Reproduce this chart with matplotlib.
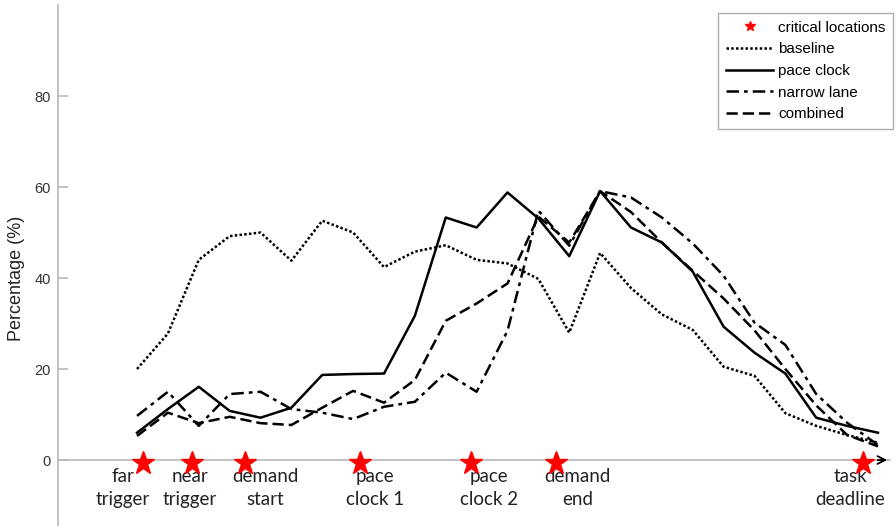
import matplotlib.pyplot as plt
import numpy as np

# percentages at 25 evenly spaced sample locations along the task
baseline = [20.0, 27.8, 44.0, 49.2, 50.0, 43.8, 52.6, 50.0, 42.4, 45.8, 47.2, 44.0, 43.2,
            39.8, 28.0, 45.5, 37.8, 32.0, 28.6, 20.5, 18.5, 10.3, 7.5, 5.5, 3.8]
pace_clock = [6.0, 11.2, 16.1, 10.8, 9.3, 11.5, 18.7, 18.9, 19.0, 31.7, 53.3, 51.1, 58.8,
              53.1, 44.8, 59.1, 51.1, 47.8, 41.4, 29.3, 23.6, 19.0, 9.3, 7.5, 6.0]
narrow_lane = [9.7, 15.0, 7.5, 14.5, 15.0, 11.2, 10.4, 9.0, 11.7, 12.8, 19.2, 15.0, 28.4,
               54.8, 47.1, 59.1, 57.7, 53.3, 47.6, 40.5, 30.2, 25.3, 14.5, 8.2, 3.3]
combined = [5.3, 10.4, 8.1, 9.5, 8.1, 7.7, 11.5, 15.2, 12.6, 17.6, 30.6, 34.4, 38.8,
            53.5, 47.8, 59.1, 54.5, 47.8, 41.6, 35.5, 28.5, 20.0, 12.0, 5.5, 3.0]

critical_x = [0.19, 1.78, 3.5, 7.22, 10.82, 13.57, 23.5]
critical_labels = ["far\ntrigger", "near\ntrigger", "demand\nstart", "pace\nclock 1",
                   "pace\nclock 2", "demand\nend", "task\ndeadline"]
label_x = [-0.45, 1.72, 4.15, 7.71, 11.4, 14.28, 23.1]

yticks = [0, 20, 40, 60, 80]

x = np.arange(len(baseline))

fig = plt.figure(figsize=(8.96, 5.26), dpi=100)
ax = fig.add_axes([58 / 896, 0, (890 - 58) / 896, (526 - 5) / 526])
ax.set_xlim(-2.56, 24.39)
ax.set_ylim(-14.5, 100)

axis_gray = "#b8b8b8"

ax.plot(ax.get_xlim(), [0, 0], color=axis_gray, lw=1.2, zorder=1, clip_on=False)
ax.annotate("", xy=(24.39, 0), xytext=(23.9, 0),
            arrowprops=dict(arrowstyle="->", color="black", lw=1.3, mutation_scale=14),
            annotation_clip=False)

ax.plot(x, baseline, color="black", lw=1.8, linestyle=(0, (1, 0.9)), label="baseline")
ax.plot(x, pace_clock, color="black", lw=1.8, linestyle="-", label="pace clock")
ax.plot(x, narrow_lane, color="black", lw=1.8, linestyle=(0, (5, 2, 1.5, 2)), label="narrow lane")
ax.plot(x, combined, color="black", lw=1.8, linestyle=(0, (4.5, 2)), label="combined")

ax.plot(critical_x, [-0.7] * len(critical_x), linestyle="none", marker="*",
        color="red", markersize=17, zorder=5, clip_on=False, label="critical locations")

for lx, lab in zip(label_x, critical_labels):
    ax.text(lx, -1.7, lab, ha="center", va="top", fontsize=13.5, family="Lato",
            color="#222222", linespacing=1.45)

for s in ["top", "right", "bottom"]:
    ax.spines[s].set_visible(False)
ax.spines["left"].set_color(axis_gray)
ax.spines["left"].set_linewidth(1.2)
ax.set_xticks([])
ax.set_yticks(yticks)
ax.tick_params(axis="y", direction="in", length=7, color=axis_gray, width=1.2,
               labelsize=10.5, labelcolor="#333333", pad=5)
for t in ax.get_yticklabels():
    t.set_family("Liberation Sans")
ax.set_ylabel("Percentage (%)", fontsize=13, family="Liberation Sans", color="#222222")
ax.yaxis.set_label_coords(-0.040, 0.476)

handles, labels = ax.get_legend_handles_labels()
order = [4, 0, 1, 2, 3]
leg = ax.legend([handles[i] for i in order], [labels[i] for i in order],
                loc="upper right", bbox_to_anchor=(893 / 896, 1 - 13 / 526),
                bbox_transform=fig.transFigure, borderaxespad=0, fancybox=False,
                edgecolor="#999999", handlelength=3.1, handletextpad=0.3,
                prop={"family": "Liberation Sans", "size": 11}, labelspacing=0.5,
                markerscale=0.45, borderpad=0.5)
leg.get_frame().set_linewidth(1.0)

fig.savefig("out.png", dpi=100)
